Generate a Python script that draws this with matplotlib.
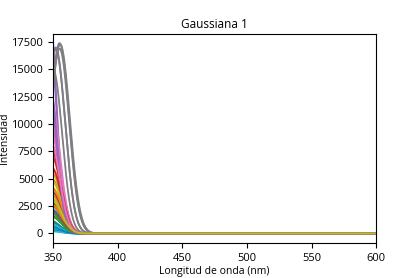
import numpy as np
import matplotlib
matplotlib.use('Agg')
import matplotlib.pyplot as plt

# Gaussian parameters (amplitude, centre nm, width nm)
amps = [1500, 5000, 800, 9000, 22000, 3000, 11000, 17400, 4000, 600,
        2200, 6000, 1200, 7000, 17000, 2500, 9500, 16900, 4800, 400,
        1000, 3500, 2000, 8000, 20000, 3800, 12500, 17300, 5500, 900,
        300, 4200, 1600, 6000, 14000, 2800, 10000, 16800, 3200, 200,
        600, 2600, 1800, 7500, 13000, 2000, 8500, 15000, 3000]
centers = [349, 349, 348, 349, 346, 349, 348, 355, 349, 348,
           349, 349, 348, 349, 352, 349, 348, 355, 349, 348,
           349, 349, 349, 349, 346, 349, 348, 355.5, 349, 348,
           348, 349, 349, 349, 347, 349, 348, 352, 349, 348,
           348, 349, 349, 349, 347, 349, 348, 350, 349]
sigmas = [7.5, 7.5, 7, 7, 6, 7.5, 7, 7.5, 7.5, 7,
          7, 7.5, 7, 7, 7.3, 7.5, 7, 7.4, 7.5, 7,
          7, 7.5, 7, 7, 6.2, 7.5, 7, 7.5, 7.5, 7,
          7, 7.5, 7, 7, 6, 7.5, 7, 7.3, 7.5, 7,
          7, 7.5, 7, 7, 6, 7.5, 7, 7, 7.5]

plt.rcParams['font.family'] = 'Open Sans'
plt.rcParams['font.size'] = 7.5
plt.rcParams['xtick.labelsize'] = 8
plt.rcParams['ytick.labelsize'] = 8

wl = np.linspace(350, 600, 1001)

fig = plt.figure(figsize=(4.18, 2.78), dpi=100)
ax = fig.add_axes([0.127, 0.126, 0.773, 0.753])
for a, c, s in zip(amps, centers, sigmas):
    ax.plot(wl, a * np.exp(-(wl - c) ** 2 / (2 * s ** 2)), linewidth=1.3)

ax.set_xlim(350, 600)
ax.set_ylim(-870, 18270)
ax.set_title('Gaussiana 1', fontsize=8.5, pad=4)
ax.set_xlabel('Longitud de onda (nm)', labelpad=1.5)
ax.set_ylabel('Intensidad', labelpad=1)

fig.savefig('out.png', dpi=100)
